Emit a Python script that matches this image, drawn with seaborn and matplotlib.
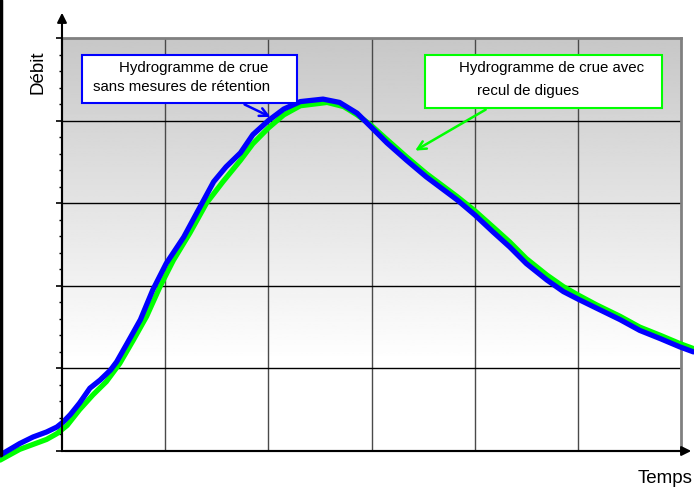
import numpy as np
import pandas as pd
import matplotlib
matplotlib.use("Agg")
import matplotlib.pyplot as plt
import seaborn as sns
from matplotlib.patches import Rectangle, FancyArrowPatch
from matplotlib.lines import Line2D

sns.set_style("white")
plt.rcParams["font.family"] = ["Liberation Sans", "DejaVu Sans"]
plt.rcParams["text.color"] = "black"

# ===== data (time units = grid columns, discharge = grid rows) =====
t_sans = [-0.60, -0.41, -0.28, -0.15, -0.05, 0.01, 0.08, 0.17, 0.27, 0.37, 0.47, 0.53,
          0.63, 0.76, 0.88, 1.01, 1.18, 1.34, 1.47, 1.59, 1.73, 1.85, 2.00, 2.15, 2.31,
          2.53, 2.69, 2.86, 2.99, 3.15, 3.34, 3.53, 3.83, 4.00, 4.18, 4.34, 4.50, 4.70,
          4.86, 5.00, 5.18, 5.41, 5.60, 5.80, 5.99, 6.12]
q_sans = [-0.05, 0.09, 0.17, 0.23, 0.29, 0.35, 0.44, 0.58, 0.76, 0.86, 0.98, 1.08,
          1.30, 1.59, 1.95, 2.27, 2.59, 2.96, 3.26, 3.44, 3.61, 3.83, 4.00, 4.14, 4.23,
          4.26, 4.22, 4.09, 3.93, 3.73, 3.52, 3.32, 3.04, 2.86, 2.65, 2.47, 2.27, 2.07,
          1.93, 1.84, 1.73, 1.59, 1.46, 1.36, 1.26, 1.20]

t_recul = [-0.60, -0.41, -0.28, -0.15, -0.05, 0.05, 0.17, 0.30, 0.43, 0.56, 0.69, 0.82,
           0.95, 1.08, 1.24, 1.40, 1.56, 1.73, 1.85, 2.00, 2.15, 2.31, 2.57, 2.73, 2.86,
           2.99, 3.15, 3.34, 3.53, 3.83, 4.00, 4.18, 4.34, 4.50, 4.70, 4.86, 5.00, 5.18,
           5.41, 5.60, 5.80, 5.99, 6.12]
q_recul = [-0.11, 0.02, 0.08, 0.14, 0.21, 0.31, 0.50, 0.68, 0.84, 1.06, 1.34, 1.63,
           1.99, 2.31, 2.64, 3.00, 3.26, 3.52, 3.72, 3.91, 4.07, 4.18, 4.22, 4.17, 4.07,
           3.95, 3.77, 3.56, 3.36, 3.08, 2.91, 2.71, 2.53, 2.33, 2.13, 1.99, 1.89, 1.77,
           1.63, 1.50, 1.40, 1.30, 1.24]

label_sans = ["Hydrogramme de crue", "sans mesures de rétention"]
label_recul = ["Hydrogramme de crue avec", "recul de digues"]
xlabel = "Temps"
ylabel = "Débit"

BLUE = "#0000ff"
GREEN = "#00ff00"

df_sans = pd.DataFrame({"t": t_sans, "q": q_sans})
df_recul = pd.DataFrame({"t": t_recul, "q": q_recul})

fig = plt.figure(figsize=(6.94, 4.88), dpi=100)
ax = fig.add_axes([62/694, 37/488, 619/694, 413/488])

# gradient background (grey at the top, white at the bottom)
ax.imshow(np.minimum(np.linspace(0.78, 1.06, 256), 1.0).reshape(-1, 1),
          extent=[0, 6, 0, 5], origin="upper", aspect="auto", cmap="gray",
          vmin=0, vmax=1, zorder=0)

# grid
for x in range(1, 6):
    ax.axvline(x, color="#4a4a4a", lw=1.0, zorder=1)
for y in range(1, 5):
    ax.axhline(y, color="black", lw=1.0, zorder=1)

# curves
line_kw = dict(sort=False, lw=3.8, ax=ax, clip_on=False,
               solid_joinstyle="round", solid_capstyle="round")
sns.lineplot(data=df_recul, x="t", y="q", color=GREEN, zorder=3, **line_kw)
sns.lineplot(data=df_sans, x="t", y="q", color=BLUE, zorder=4, **line_kw)

ax.set_xlim(0, 6)
ax.set_ylim(0, 5)
ax.set_xlabel("")
ax.set_ylabel("")

# spines
for s in ["top", "right"]:
    ax.spines[s].set_color("#808080")
    ax.spines[s].set_linewidth(2)
for s in ["left", "bottom"]:
    ax.spines[s].set_color("black")
    ax.spines[s].set_linewidth(1.5)

ax.set_xticks([])
ax.set_yticks(range(0, 6))
ax.set_yticks(np.arange(0, 5.01, 0.2), minor=True)
ax.set_yticklabels([])
ax.tick_params(axis="y", which="major", direction="out", length=4, width=1.2, color="black", left=True)
ax.tick_params(axis="y", which="minor", direction="out", length=2.5, width=1, color="black", left=True)

# annotation boxes
ax.add_patch(Rectangle((0.19, 4.21), 2.09, 0.58, facecolor="white", edgecolor=BLUE,
                       lw=1.5, zorder=6, clip_on=False))
ax.add_patch(Rectangle((3.52, 4.15), 2.30, 0.64, facecolor="white", edgecolor=GREEN,
                       lw=1.5, zorder=6, clip_on=False))
ax.text(0.553, 4.59, label_sans[0], fontsize=10.8, ha="left", va="baseline", zorder=7)
ax.text(0.300, 4.36, label_sans[1], fontsize=10.8, ha="left", va="baseline", zorder=7)
ax.text(3.848, 4.59, label_recul[0], fontsize=10.8, ha="left", va="baseline", zorder=7)
ax.text(4.022, 4.31, label_recul[1], fontsize=10.8, ha="left", va="baseline", zorder=7)

ax.annotate("", xy=(2.045, 4.03), xytext=(1.745, 4.21),
            arrowprops=dict(arrowstyle="->", color=BLUE, lw=1.8, mutation_scale=15), zorder=5)
ax.annotate("", xy=(3.40, 3.62), xytext=(4.13, 4.15),
            arrowprops=dict(arrowstyle="->", color=GREEN, lw=1.8, mutation_scale=15), zorder=5)

# axis arrows
fig.patches.append(FancyArrowPatch(
    (62/694, 37/488), (62/694, 1 - 10/488), transform=fig.transFigure,
    arrowstyle="-|>", mutation_scale=14, color="black", lw=1.5))
fig.patches.append(FancyArrowPatch(
    (62/694, 37/488), (694/694, 37/488), transform=fig.transFigure,
    arrowstyle="-|>", mutation_scale=14, color="black", lw=1.5))

# left frame edge
fig.add_artist(Line2D([1/694, 1/694], [1 - 455/488, 1], transform=fig.transFigure,
                      color="black", lw=2.5))

fig.text(38/694, 1 - 72/488, ylabel, rotation=90, fontsize=13.5, ha="center", va="center")
fig.text(693/694, 1 - 483/488, xlabel, fontsize=13.5, ha="right", va="baseline")

fig.savefig("out.png", dpi=100)
